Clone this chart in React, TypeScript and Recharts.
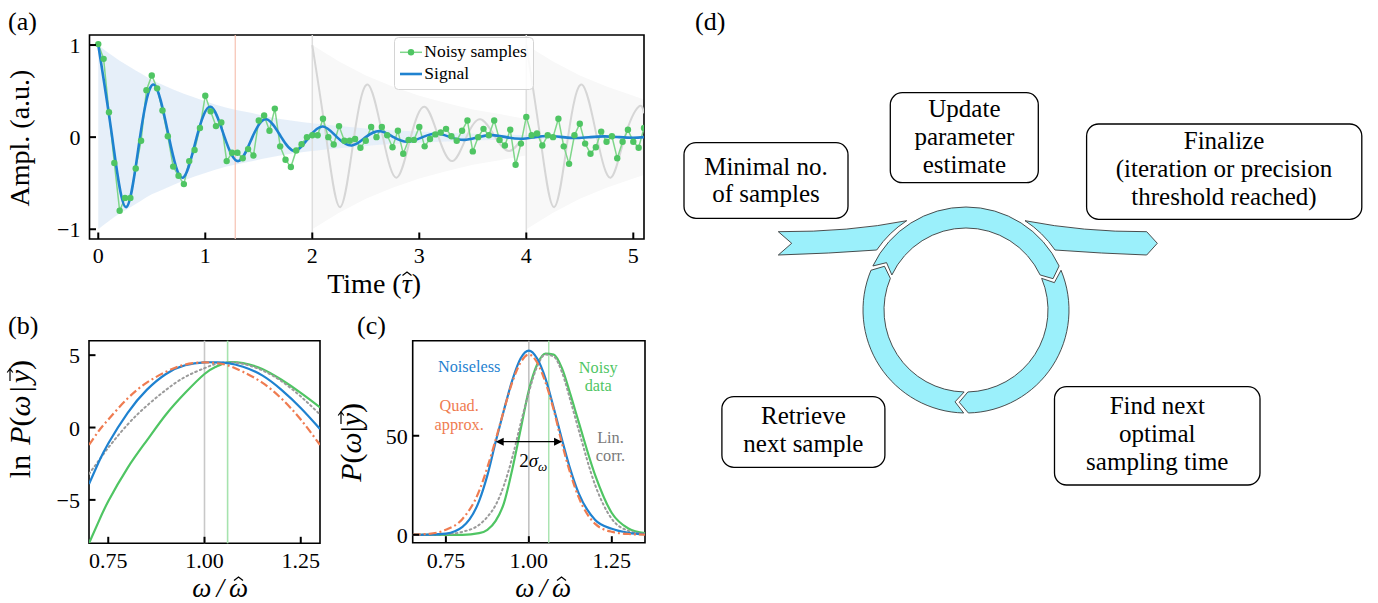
import React from "react";
import {
  ComposedChart,
  Line,
  Area,
  XAxis,
  YAxis,
  ReferenceLine,
  ReferenceArea,
  ReferenceDot,
  Legend,
} from "recharts";

const FONT = '"Liberation Serif", serif';
const TXT = { fontFamily: FONT };
const BLUE = "#1f82d0";
const GREEN = "#4fc563";
const GREEN_LINE = "#7fd68a";
const ORANGE = "#ef7c51";
const GRAY_DOT = "#9a9a9a";

// ---------------- Panel (a) data ----------------
const sampleTimes = [
  0, 0.05, 0.1, 0.15, 0.2, 0.25, 0.3, 0.35, 0.4, 0.45, 0.5, 0.55, 0.6, 0.65, 0.7, 0.75, 0.8, 0.85, 0.9, 0.95,
  1, 1.05, 1.1, 1.15, 1.2, 1.25, 1.3, 1.35, 1.4, 1.45, 1.5, 1.55, 1.6, 1.65, 1.7, 1.75, 1.8, 1.85, 1.9, 1.95,
  2, 2.05, 2.1, 2.15, 2.2, 2.25, 2.3, 2.35, 2.4, 2.45, 2.5, 2.55, 2.6, 2.65, 2.7, 2.75, 2.8, 2.85, 2.9, 2.95,
  3, 3.05, 3.1, 3.15, 3.2, 3.25, 3.3, 3.35, 3.4, 3.45, 3.5, 3.55, 3.6, 3.65, 3.7, 3.75, 3.8, 3.85, 3.9, 3.95,
  4, 4.05, 4.1, 4.15, 4.2, 4.25, 4.3, 4.35, 4.4, 4.45, 4.5, 4.55, 4.6, 4.65, 4.7, 4.75, 4.8, 4.85, 4.9, 4.95,
  5, 5.05, 5.1,
];
const sampleValues = [
  1.01, 0.85, 0.27, -0.28, -0.8, -0.66, -0.66, -0.34, -0.04, 0.51, 0.67, 0.53, 0.29, 0.01, -0.32, -0.42, -0.51, -0.26, -0.14, 0.1,
  0.45, 0.28, 0.12, 0.16, -0.26, -0.17, -0.17, -0.23, -0.13, -0.2, 0.18, 0.235, 0.07, 0.31, -0.1, -0.245, -0.325, -0.145, -0.076, 0.0,
  0.02, 0.02, 0.2, 0.0, -0.08, 0.12, -0.04, -0.04, -0.02, -0.115, -0.04, 0.11, 0.0, 0.11, 0.02, -0.11, 0.07, -0.18, -0.03, -0.03,
  0.11, -0.1, -0.02, 0.03, 0.05, 0.09, 0.01, -0.04, 0.07, 0.18, -0.155, 0.0, 0.09, 0.02, 0.18, -0.03, -0.09, 0.08, -0.3, -0.07,
  0.22, 0.02, 0.04, -0.09, 0.02, 0.0, 0.2, -0.1, -0.29, 0.02, 0.145, -0.07, -0.18, -0.11, 0.06, -0.05, 0.01, -0.23, -0.05, 0.08,
  -0.05, -0.115, 0.1,
];
const signalTimes = [
  0, 0.13, 0.26, 0.39, 0.52, 0.66, 0.79, 0.92, 1.05, 1.18, 1.31, 1.44, 1.57, 1.71, 1.84, 1.97, 2.1, 2.23, 2.37, 2.5,
  2.63, 2.76, 2.89, 3.03, 3.16, 3.29, 3.42, 3.55, 3.68, 3.81, 3.95, 4.08, 4.21, 4.34, 4.47, 4.6, 4.73, 4.87, 5.0, 5.1,
];
const signalValues = [
  1.0, 0.0, -0.76, 0.0, 0.57, 0.0, -0.44, 0.0, 0.33, 0.0, -0.26, 0.0, 0.195, 0.0, -0.15, 0.0, 0.115, 0.0, -0.09, 0.0,
  0.065, 0.0, -0.05, 0.0, 0.04, 0.0, -0.03, 0.0, 0.022, 0.0, -0.017, 0.0, 0.013, 0.0, -0.01, 0.0, 0.008, 0.0, -0.006, 0.0,
];
const envelopeTimes = [0, 0.1, 0.2, 0.3, 0.4, 0.5, 0.6, 0.8, 1.0, 1.2, 1.4, 1.6, 1.8, 2.0, 2.25, 2.5, 2.75, 3.0, 3.5, 4.0, 4.5, 5.1];
const envelopeUpper = [1.0, 0.91, 0.83, 0.76, 0.69, 0.62, 0.57, 0.47, 0.39, 0.32, 0.27, 0.22, 0.18, 0.15, 0.12, 0.095, 0.075, 0.06, 0.037, 0.023, 0.015, 0.008];
const envelopeLower = [-1.0, -0.91, -0.83, -0.76, -0.69, -0.62, -0.57, -0.47, -0.39, -0.32, -0.27, -0.22, -0.18, -0.15, -0.12, -0.095, -0.075, -0.06, -0.037, -0.023, -0.015, -0.008];
const forecastBandTimes = [2.0, 2.25, 2.5, 2.75, 3.0, 3.25, 3.5, 3.75, 3.99, 4.0, 4.25, 4.5, 4.75, 5.0, 5.1];
const forecastBandUpper = [1.0, 0.82, 0.67, 0.55, 0.45, 0.37, 0.3, 0.25, 0.2, 1.0, 0.82, 0.67, 0.55, 0.45, 0.41];
const forecastBandLower = [-1.0, -0.82, -0.67, -0.55, -0.45, -0.37, -0.3, -0.25, -0.2, -1.0, -0.82, -0.67, -0.55, -0.45, -0.41];
const forecast1Times = [2.0, 2.13, 2.26, 2.39, 2.52, 2.66, 2.79, 2.92, 3.05, 3.18, 3.31, 3.44, 3.57, 3.71, 3.84, 3.97];
const forecast1Values = [1.0, 0.0, -0.76, 0.0, 0.57, 0.0, -0.44, 0.0, 0.33, 0.0, -0.26, 0.0, 0.195, 0.0, -0.15, 0.0];
const forecast2Times = [4.0, 4.13, 4.26, 4.39, 4.52, 4.66, 4.79, 4.92, 5.05, 5.1];
const forecast2Values = [1.0, 0.0, -0.76, 0.0, 0.57, 0.0, -0.44, 0.0, 0.33, 0.26];
const aXTicks = [0, 1, 2, 3, 4, 5];
const aYTicks = [-1, 0, 1];
const aCurrentTime = 1.28;
const aRestartTimes = [2, 4];

// ---------------- Panel (b) data ----------------
const bOmega = [0.7, 0.725, 0.75, 0.8, 0.85, 0.9, 0.95, 1.0, 1.03, 1.06, 1.1, 1.15, 1.2, 1.25, 1.3];
const bNoiseless = [-3.9, -2.4, -1.1, 1.0, 2.6, 3.7, 4.3, 4.5, 4.5, 4.45, 4.2, 3.6, 2.6, 1.35, -0.1];
const bQuad = [-1.2, -0.25, 0.55, 2.0, 3.1, 3.85, 4.35, 4.5, 4.45, 4.3, 3.85, 3.1, 2.0, 0.55, -1.2];
const bLinCorr = [-3.2, -2.3, -1.4, 0.2, 1.5, 2.6, 3.5, 4.1, 4.4, 4.5, 4.4, 3.95, 3.2, 2.15, 0.9];
const bNoisy = [-8.0, -6.5, -5.1, -2.8, -0.9, 0.9, 2.4, 3.7, 4.2, 4.5, 4.45, 4.05, 3.3, 2.4, 1.4];
const bXTicks = [0.75, 1.0, 1.25];
const bYTicks = [-5, 0, 5];

// ---------------- Panel (c) data ----------------
const cOmega = [0.65, 0.7, 0.75, 0.8, 0.85, 0.875, 0.9, 0.925, 0.95, 0.975, 1.0, 1.025, 1.05, 1.075, 1.1, 1.125, 1.15, 1.2, 1.25, 1.3, 1.35];
const cNoiseless = [0, 0.1, 0.6, 4, 17, 30, 47, 63, 78, 89, 93, 89, 79, 64, 48, 33, 21, 7.5, 3, 1, 0.3];
const cQuad = [0.1, 0.5, 2.5, 8, 22, 34, 48, 63, 77, 87, 91, 87, 77, 63, 46, 31, 19, 5.5, 1.5, 0.4, 0.1];
const cLinCorr = [0, 0, 0.3, 1.5, 5, 9, 15, 25, 39, 56, 72, 85, 91, 90, 82, 68, 53, 25, 8, 2, 0.4];
const cNoisy = [0, 0, 0, 0, 0.8, 2.5, 7, 16, 33, 53, 73, 86, 91.5, 91, 84, 71, 57, 30, 11, 3.2, 0.8];
const cXTicks = [0.75, 1.0, 1.25];
const cYTicks = [0, 50];
const cTrueOmega = 1.0;
const cNoisyOmega = 1.06;
const cWidthLeft = 0.9;
const cWidthRight = 1.1;
const cWidthLevel = 47;

// ---------------- build tables ----------------
const zipT = (ts: number[], vs: number[]) => ts.map((t, i) => ({ t, v: vs[i] }));
const zipRange = (ts: number[], lo: number[], hi: number[]) => ts.map((t, i) => ({ t, range: [lo[i], hi[i]] }));
const samples = zipT(sampleTimes, sampleValues);
const signal = zipT(signalTimes, signalValues);
const envelope = zipRange(envelopeTimes, envelopeLower, envelopeUpper);
const forecastBand = zipRange(forecastBandTimes, forecastBandLower, forecastBandUpper);
const forecast1 = zipT(forecast1Times, forecast1Values);
const forecast2 = zipT(forecast2Times, forecast2Values);
const bData = bOmega.map((w, i) => ({ w, noiseless: bNoiseless[i], quad: bQuad[i], lin: bLinCorr[i], noisy: bNoisy[i] }));
const cData = cOmega.map((w, i) => ({ w, noiseless: cNoiseless[i], quad: cQuad[i], lin: cLinCorr[i], noisy: cNoisy[i] }));

// ---------------- helpers ----------------
const fmtInt = (v: number) => (v < 0 ? "\u2212" + Math.abs(v) : String(v));
const fmt2 = (v: number) => v.toFixed(2);

const xTick = (fmt: (v: number) => string, dy: number) => (props: any) => {
  const { x, y, payload } = props;
  return (
    <g>
      <line x1={x} x2={x} y1={y} y2={y - 6.5} stroke="#000" strokeWidth={2} />
      <text x={x} y={y + dy} textAnchor="middle" style={TXT} fontSize={22} fill="#000">
        {fmt(payload.value)}
      </text>
    </g>
  );
};
const yTick = (fmt: (v: number) => string, gap: number) => (props: any) => {
  const { x, y, payload } = props;
  return (
    <g>
      <line x1={x} x2={x + 6.5} y1={y} y2={y} stroke="#000" strokeWidth={2} />
      <text x={x - gap} y={y + 8} textAnchor="end" style={TXT} fontSize={22} fill="#000">
        {fmt(payload.value)}
      </text>
    </g>
  );
};

const legendA = () => (
  <svg width={141} height={54} style={{ display: "block" }}>
    <rect x={0.5} y={0.5} width={139} height={52} rx={4} fill="#fff" fillOpacity={0.85} stroke="#d4d4d4" strokeWidth={1} />
    <line x1={6} x2={28} y1={15.3} y2={15.3} stroke={GREEN_LINE} strokeWidth={1.5} />
    <circle cx={17} cy={15.3} r={3.2} fill={GREEN} />
    <text x={30.3} y={20} style={TXT} fontSize={17.5} fill="#000">Noisy samples</text>
    <line x1={6} x2={28} y1={37} y2={37} stroke={BLUE} strokeWidth={2.6} />
    <text x={30.3} y={41.5} style={TXT} fontSize={17.5} fill="#000">Signal</text>
  </svg>
);

const cNotes = [
  { w: 0.82, v: 82, lines: ["Noiseless"], color: BLUE },
  { w: 1.209, v: 81.7, lines: ["Noisy", "data"], color: GREEN },
  { w: 0.79, v: 62.3, lines: ["Quad.", "approx."], color: ORANGE },
  { w: 1.246, v: 46.4, lines: ["Lin.", "corr."], color: "#7a7a7a" },
];
const NOTE_SIZE = 16.3;
const NOTE_LH = 18.2;

const noteShape = (lines: string[], color: string) => (props: any) => (
  <text x={props.cx} y={props.cy} textAnchor="middle" style={TXT} fontSize={NOTE_SIZE} fill={color}>
    {lines.map((l, i) => (
      <tspan key={i} x={props.cx} dy={i === 0 ? 0 : NOTE_LH}>{l}</tspan>
    ))}
  </text>
);

const sigmaShape = (props: any) => (
  <text x={props.cx} y={props.cy} textAnchor="middle" style={TXT} fontSize={19} fill="#000">
    2<tspan fontStyle="italic">σ</tspan>
    <tspan fontStyle="italic" fontSize={13} dy={4}>ω</tspan>
  </text>
);

const arrowShape = (props: any) => {
  const { x1, y1, x2, y2 } = props;
  const L = 8, H = 4;
  return (
    <g>
      <line x1={x1 + 3} y1={y1} x2={x2 - 3} y2={y2} stroke="#000" strokeWidth={1.3} />
      <polygon points={`${x1},${y1} ${x1 + L},${y1 - H} ${x1 + L},${y1 + H}`} fill="#000" />
      <polygon points={`${x2},${y2} ${x2 - L},${y2 - H} ${x2 - L},${y2 + H}`} fill="#000" />
    </g>
  );
};

// math decorations
const Hat = ({ x, y }: { x: number; y: number }) => (
  <path d={`M${x - 4.5},${y + 3.5} L${x},${y} L${x + 4.5},${y + 3.5}`} fill="none" stroke="#000" strokeWidth={1.3} />
);
const Vec = ({ x, y }: { x: number; y: number }) => (
  <path d={`M${x - 6},${y} H${x + 6} M${x + 2.5},${y - 2.8} L${x + 6.3},${y} L${x + 2.5},${y + 2.8}`} fill="none" stroke="#000" strokeWidth={1.2} />
);

// ---------------- Panel (d) geometry ----------------
const CX = 966, CY = 310, RO = 103, RI = 82, RM = 92.5;
const pt = (r: number, deg: number) => [CX + r * Math.cos((deg * Math.PI) / 180), CY + r * Math.sin((deg * Math.PI) / 180)];
const chevronArc = (t0: number, t1: number, d = 5.5) => {
  const [ox0, oy0] = pt(RO, t0);
  const [ox1, oy1] = pt(RO, t1);
  const [tx, ty] = pt(RM, t1 + d);
  const [ix1, iy1] = pt(RI, t1);
  const [ix0, iy0] = pt(RI, t0);
  const [nx, ny] = pt(RM, t0 + d);
  const large = t1 - t0 > 180 ? 1 : 0;
  return `M${ox0},${oy0} A${RO},${RO} 0 ${large} 1 ${ox1},${oy1} L${tx},${ty} L${ix1},${iy1} A${RI},${RI} 0 ${large} 0 ${ix0},${iy0} L${nx},${ny} Z`;
};
const GAP = 1.3;
const ringSegments = [
  [204 + GAP, 336 - GAP],
  [336 + GAP, 450 - GAP],
  [90 + GAP, 204 - GAP],
];
const inArrow = "M778.3,231.7 Q850,232 906.7,220.7 A107,107 0 0 0 876.7,250 Q830,253.5 778.3,255 L791.7,243.3 Z";
const outArrow = "M1025,220.7 Q1083,232 1146.7,231.7 L1157.3,243.3 L1146.7,255 Q1102,253.5 1055,250 A107,107 0 0 0 1025,220.7 Z";
const CYAN = "#9bf0fb";

const D_SIZE = 25;
const D_LH = 27.8;
const dBoxes = [
  { x: 684, y: 142.7, w: 164, h: 75.6, cx: 766, lines: ["Minimal no.", "of samples"], base: 174.5 },
  { x: 890.3, y: 92.7, w: 148, h: 90, cx: 964.4, lines: ["Update", "parameter", "estimate"], base: 117.2 },
  { x: 1086.6, y: 124, w: 275.2, h: 95.3, cx: 1224, lines: ["Finalize", "(iteration or precision", "threshold reached)"], base: 148.9 },
  { x: 721.9, y: 396.7, w: 163, h: 70.6, cx: 803.4, lines: ["Retrieve", "next sample"], base: 424.4 },
  { x: 1054.5, y: 386.7, w: 205.5, h: 98.3, cx: 1157.3, lines: ["Find next", "optimal", "sampling time"], base: 413.9 },
];

export default function App() {
  return (
    <div style={{ position: "absolute", left: 0, top: 0, width: 1378, height: 603, background: "#fff", overflow: "hidden", fontFamily: FONT }}>
      {/* Panel (a) */}
      <div style={{ position: "absolute", left: 0, top: 0 }}>
        <ComposedChart width={660} height={300} margin={{ top: 35, right: 16, bottom: 31, left: 49.5 }}>
          <XAxis type="number" dataKey="t" domain={[-0.082, 5.1]} ticks={aXTicks} interval={0} height={30} tickSize={0} tickMargin={0}
            axisLine={false} tickLine={false} tick={xTick(fmtInt, 23.5)} allowDataOverflow />
          <YAxis type="number" domain={[-1.106, 1.109]} ticks={aYTicks} interval={0} width={40} tickSize={0} tickMargin={0}
            axisLine={false} tickLine={false} tick={yTick(fmtInt, 9)} allowDataOverflow />
          <Area data={forecastBand} dataKey="range" type="linear" stroke="none" fill="#f8f8f8" fillOpacity={1} isAnimationActive={false} />
          <Area data={envelope} dataKey="range" type="monotone" stroke="none" fill="#e3edf8" fillOpacity={0.9} isAnimationActive={false} />
          <ReferenceLine x={aCurrentTime} stroke="#f6c2b2" strokeWidth={1.2} />
          {aRestartTimes.map((t) => (
            <ReferenceLine key={t} x={t} stroke="#dedede" strokeWidth={1.5} />
          ))}
          <Line data={forecast1} dataKey="v" type="natural" stroke="#d6d6d6" strokeWidth={2} dot={false} activeDot={false} isAnimationActive={false} />
          <Line data={forecast2} dataKey="v" type="natural" stroke="#d6d6d6" strokeWidth={2} dot={false} activeDot={false} isAnimationActive={false} />
          <Line data={samples} dataKey="v" type="linear" stroke={GREEN_LINE} strokeWidth={1.5}
            dot={{ r: 3.2, fill: GREEN, stroke: "none" }} activeDot={false} isAnimationActive={false} />
          <Line data={signal} dataKey="v" type="natural" stroke={BLUE} strokeWidth={2.6} dot={false} activeDot={false} isAnimationActive={false} />
          <ReferenceArea x1={-0.082} x2={5.1} y1={-1.106} y2={1.109} fill="none" stroke="#000" strokeWidth={1.6} ifOverflow="visible" />
          <Legend content={legendA} layout="horizontal" verticalAlign="middle" align="center"
            wrapperStyle={{ position: "absolute", left: 394, top: 37, width: 141, height: 54 }} />
        </ComposedChart>
      </div>

      {/* Panel (b) */}
      <div style={{ position: "absolute", left: 0, top: 300 }}>
        <ComposedChart width={340} height={303} data={bData} margin={{ top: 40.7, right: 20, bottom: 29.7, left: 49 }}>
          <XAxis type="number" dataKey="w" domain={[0.7, 1.3]} ticks={bXTicks} interval={0} height={30} tickSize={0} tickMargin={0}
            axisLine={false} tickLine={false} tick={xTick(fmt2, 25)} allowDataOverflow />
          <YAxis type="number" domain={[-8, 6]} ticks={bYTicks} interval={0} width={40} tickSize={0} tickMargin={0}
            axisLine={false} tickLine={false} tick={yTick(fmtInt, 9)} allowDataOverflow />
          <ReferenceLine x={cTrueOmega} stroke="#c8c8c8" strokeWidth={1.6} />
          <ReferenceLine x={cNoisyOmega} stroke="#a6e3ae" strokeWidth={1.6} />
          <Line dataKey="noisy" type="natural" stroke={GREEN} strokeWidth={2.2} dot={false} activeDot={false} isAnimationActive={false} />
          <Line dataKey="lin" type="natural" stroke={GRAY_DOT} strokeWidth={2} strokeDasharray="1.6 3.2" strokeLinecap="round" dot={false} activeDot={false} isAnimationActive={false} />
          <Line dataKey="noiseless" type="natural" stroke={BLUE} strokeWidth={2.2} dot={false} activeDot={false} isAnimationActive={false} />
          <Line dataKey="quad" type="natural" stroke={ORANGE} strokeWidth={2.2} strokeDasharray="8 3 2 3" dot={false} activeDot={false} isAnimationActive={false} />
          <ReferenceArea x1={0.7} x2={1.3} y1={-8} y2={6} fill="none" stroke="#000" strokeWidth={1.6} ifOverflow="visible" />
        </ComposedChart>
      </div>

      {/* Panel (c) */}
      <div style={{ position: "absolute", left: 330, top: 300 }}>
        <ComposedChart width={330} height={303} data={cData} margin={{ top: 40.7, right: 15, bottom: 30.3, left: 42.7 }}>
          <XAxis type="number" dataKey="w" domain={[0.65, 1.35]} ticks={cXTicks} interval={0} height={30} tickSize={0} tickMargin={0}
            axisLine={false} tickLine={false} tick={xTick(fmt2, 25.5)} allowDataOverflow />
          <YAxis type="number" domain={[-4, 98]} ticks={cYTicks} interval={0} width={40} tickSize={0} tickMargin={0}
            axisLine={false} tickLine={false} tick={yTick(fmtInt, 5)} allowDataOverflow />
          <ReferenceLine x={cTrueOmega} stroke="#b9b9b9" strokeWidth={1.4} />
          <ReferenceLine x={cNoisyOmega} stroke="#a6e3ae" strokeWidth={1.4} />
          <Line dataKey="noisy" type="monotone" stroke={GREEN} strokeWidth={2.2} dot={false} activeDot={false} isAnimationActive={false} />
          <Line dataKey="lin" type="monotone" stroke={GRAY_DOT} strokeWidth={2} strokeDasharray="1.6 3.2" strokeLinecap="round" dot={false} activeDot={false} isAnimationActive={false} />
          <Line dataKey="noiseless" type="monotone" stroke={BLUE} strokeWidth={2.2} dot={false} activeDot={false} isAnimationActive={false} />
          <Line dataKey="quad" type="monotone" stroke={ORANGE} strokeWidth={2.2} strokeDasharray="8 3 2 3" dot={false} activeDot={false} isAnimationActive={false} />
          <ReferenceLine segment={[{ x: cWidthLeft, y: cWidthLevel }, { x: cWidthRight, y: cWidthLevel }]} shape={arrowShape} ifOverflow="visible" />
          {cNotes.map((n) => (
            <ReferenceDot key={n.lines[0]} x={n.w} y={n.v} r={0} shape={noteShape(n.lines, n.color)} ifOverflow="visible" />
          ))}
          <ReferenceDot x={1.013} y={34.4} r={0} shape={sigmaShape} ifOverflow="visible" />
          <ReferenceArea x1={0.65} x2={1.35} y1={-4} y2={98} fill="none" stroke="#000" strokeWidth={1.6} ifOverflow="visible" />
        </ComposedChart>
      </div>

      {/* Labels and panel (d) */}
      <svg width={1378} height={603} style={{ position: "absolute", left: 0, top: 0, pointerEvents: "none", fontFamily: FONT }}>
        <g fill="#000">
          <text x={8} y={30} fontSize={26} style={TXT}>(a)</text>
          <text x={8} y={334} fontSize={26} style={TXT}>(b)</text>
          <text x={357} y={334} fontSize={26} style={TXT}>(c)</text>
          <text x={695} y={30} fontSize={26} style={TXT}>(d)</text>

          {/* (a) axis labels */}
          <text x={421} y={293} fontSize={28} textAnchor="end" style={TXT}>
            Time (<tspan fontStyle="italic">τ</tspan>)
          </text>
          <Hat x={407} y={272} />
          <text x={29} y={138} fontSize={28} textAnchor="middle" style={TXT} transform="rotate(-90 29 138)">Ampl. (a.u.)</text>

          {/* (b) axis labels */}
          <text x={248} y={597} fontSize={27} textAnchor="end" fontStyle="italic" style={TXT}>
            ω<tspan dx={5}>/</tspan><tspan dx={5}>ω</tspan>
          </text>
          <Hat x={238.5} y={577} />
          <g transform="rotate(-90 30 360)">
            <text x={30} y={360} fontSize={30} textAnchor="end" style={TXT}>
              ln<tspan dx={10} fontStyle="italic">P</tspan>(<tspan fontStyle="italic">ω</tspan><tspan dx={3}>|</tspan><tspan dx={3} fontStyle="italic">y</tspan>)
            </text>
            <Vec x={15} y={340} />
          </g>

          {/* (c) axis labels */}
          <text x={571} y={597} fontSize={27} textAnchor="end" fontStyle="italic" style={TXT}>
            ω<tspan dx={5}>/</tspan><tspan dx={5}>ω</tspan>
          </text>
          <Hat x={561.5} y={577} />
          <g transform="rotate(-90 361 403)">
            <text x={361} y={403} fontSize={30} textAnchor="end" style={TXT}>
              <tspan fontStyle="italic">P</tspan>(<tspan fontStyle="italic">ω</tspan>|<tspan fontStyle="italic">y</tspan>)
            </text>
            <Vec x={346} y={383} />
          </g>
        </g>

        {/* panel (d) */}
        {ringSegments.map(([a, b], i) => (
          <path key={i} d={chevronArc(a, b)} fill={CYAN} stroke="#3a3a3a" strokeWidth={0.9} strokeLinejoin="round" />
        ))}
        <path d={inArrow} fill={CYAN} stroke="#3a3a3a" strokeWidth={0.9} strokeLinejoin="round" />
        <path d={outArrow} fill={CYAN} stroke="#3a3a3a" strokeWidth={0.9} strokeLinejoin="round" />
        {dBoxes.map((b, i) => (
          <g key={i}>
            <rect x={b.x} y={b.y} width={b.w} height={b.h} rx={12} fill="#fff" stroke="#000" strokeWidth={1.3} />
            <text x={b.cx} y={b.base} fontSize={D_SIZE} textAnchor="middle" fill="#000" style={TXT}>
              {b.lines.map((ln, j) => (
                <tspan key={j} x={b.cx} dy={j === 0 ? 0 : D_LH}>{ln}</tspan>
              ))}
            </text>
          </g>
        ))}
      </svg>
    </div>
  );
}
